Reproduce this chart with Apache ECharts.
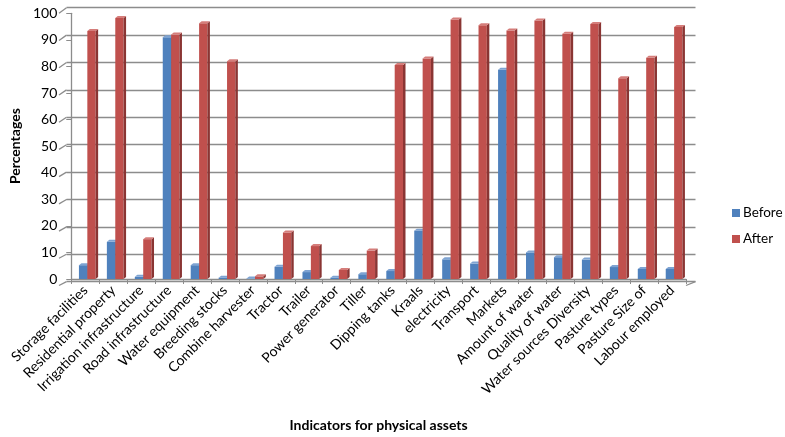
<!DOCTYPE html>
<html><head><meta charset="utf-8">
<script src="https://cdn.jsdelivr.net/npm/echarts@6/dist/echarts.min.js"></script>
<style>html,body{margin:0;padding:0;background:#fff}#c{width:785px;height:437px}</style>
</head><body><div id="c"></div>
<script>
const categories = ['Storage facilities','Residential property','Irrigation infrastructure','Road infrastructure','Water equipment','Breeding stocks','Combine harvester','Tractor','Trailer','Power generator','Tiller','Dipping tanks','Kraals','electricity','Transport','Markets','Amount of water','Quality of water','Water sources Diversity','Pasture types','Pasture Size of','Labour employed'];
const beforeValues = [5.2, 14, 0.8, 91, 5.2, 0.5, 0.2, 4.6, 2.6, 0.5, 1.8, 3, 18.2, 7.4, 5.8, 78.8, 10, 8.2, 7.3, 4.5, 3.8, 3.8];
const afterValues = [93.3, 98.2, 15, 92, 96.3, 82, 1, 17.5, 12.4, 3.4, 10.7, 80.5, 83, 97.7, 95.5, 93.5, 97.3, 92.3, 96, 75.6, 83.3, 94.8];
const yTicks = [0, 10, 20, 30, 40, 50, 60, 70, 80, 90, 100];
const seriesNames = ['Before', 'After'];
const colors = {
  Before: {front: '#4F81BD', side: '#36618f', top: '#7ea3d2'},
  After: {front: '#C0504D', side: '#8a3533', top: '#d57d7a'}
};
const FONT = 'Lato, "Open Sans", sans-serif';

function barRenderer(offA, offB, c) {
  return function (params, api) {
    const i = api.value(0), v = api.value(1);
    const base = api.coord([i, 0]);
    const tp = api.coord([i, v]);
    const x0 = base[0] + offA, x1 = base[0] + offB;
    const y0 = base[1], y1 = tp[1];
    const dx = 2.5, dy = -2;
    return {type: 'group', children: [
      {type: 'rect', shape: {x: x0, y: y1, width: x1 - x0, height: y0 - y1}, style: {fill: c.front}},
      {type: 'polygon', shape: {points: [[x1, y1], [x1 + dx, y1 + dy], [x1 + dx, y0 + dy], [x1, y0]]}, style: {fill: c.side}},
      {type: 'polygon', shape: {points: [[x0, y1], [x0 + dx, y1 + dy], [x1 + dx, y1 + dy], [x1, y1]]}, style: {fill: c.top}}
    ]};
  };
}

function wallRenderer(params, api) {
  const cs = params.coordSys;
  const v = api.value(1);
  const p = api.coord([0, v]);
  const bx = cs.x, by = p[1];
  const fx = bx - 7.5, fy = by + 3.8 + 1.8 * v / 100;
  const children = [
    {type: 'line', shape: {x1: fx, y1: fy, x2: bx, y2: by}, style: {stroke: '#8c8c8c', lineWidth: 1.3}}
  ];
  if (v === 0) {
    const rx = cs.x + cs.width;
    children.push({type: 'line', shape: {x1: rx - 9.5, y1: fy, x2: rx, y2: by}, style: {stroke: '#8c8c8c', lineWidth: 1.3}});
  }
  return {type: 'group', children: children};
}

const chart = echarts.init(document.getElementById('c'), null, {renderer: 'canvas'});
chart.setOption({
  animation: false,
  backgroundColor: '#fff',
  textStyle: {fontFamily: FONT},
  legend: {
    orient: 'vertical', left: 727, top: 201, itemWidth: 8, itemHeight: 8, itemGap: 12,
    textStyle: {fontFamily: FONT, fontSize: 13.5, color: '#000', padding: [0, 0, 0, -2]},
    data: seriesNames.map(n => ({name: n, icon: 'rect', itemStyle: {color: colors[n].front}}))
  },
  grid: [
    {left: 59, right: 99, top: 13.3, bottom: 151.5},
    {left: 66.5, right: 89.5, top: 7.7, bottom: 155.3}
  ],
  xAxis: [
    {type: 'category', gridIndex: 0, data: categories,
     axisLine: {lineStyle: {color: '#8c8c8c', width: 1.3}},
     axisTick: {show: true, interval: 0, length: 5, lineStyle: {color: '#8c8c8c'}},
     axisLabel: {interval: 0, rotate: 45, margin: 9, fontSize: 14, color: '#000', fontFamily: FONT},
     name: 'Indicators for physical assets', nameLocation: 'middle', nameGap: 139,
     nameTextStyle: {fontSize: 14, fontWeight: 'bold', color: '#000', fontFamily: FONT}},
    {type: 'category', gridIndex: 1, data: categories, show: false}
  ],
  yAxis: [
    {type: 'value', gridIndex: 0, min: 0, max: 100, interval: 10,
     axisLine: {show: true, lineStyle: {color: '#8c8c8c', width: 1.3}},
     axisTick: {show: true, length: 5, lineStyle: {color: '#8c8c8c'}},
     splitLine: {show: false},
     axisLabel: {fontSize: 14, color: '#000', margin: 14, fontFamily: FONT},
     name: 'Percentages', nameLocation: 'middle', nameRotate: 90, nameGap: 49,
     nameTextStyle: {fontSize: 14, fontWeight: 'bold', color: '#000', fontFamily: FONT}},
    {type: 'value', gridIndex: 1, min: 0, max: 100, interval: 10,
     axisLine: {show: false}, axisTick: {show: false}, axisLabel: {show: false},
     splitLine: {show: true, lineStyle: {color: '#8c8c8c', width: 1.4}}}
  ],
  series: [
    {type: 'custom', name: 'wall', xAxisIndex: 1, yAxisIndex: 1, silent: true, z: 1,
     data: yTicks.map(v => [0, v]), renderItem: wallRenderer, encode: {x: 0, y: 1}},
    {type: 'custom', name: 'Before', xAxisIndex: 0, yAxisIndex: 0, z: 3,
     itemStyle: {color: colors.Before.front},
     data: beforeValues.map((v, i) => [i, v]), encode: {x: 0, y: 1},
     renderItem: barRenderer(-6.3, 2.1, colors.Before)},
    {type: 'custom', name: 'After', xAxisIndex: 0, yAxisIndex: 0, z: 4,
     itemStyle: {color: colors.After.front},
     data: afterValues.map((v, i) => [i, v]), encode: {x: 0, y: 1},
     renderItem: barRenderer(2.1, 10.4, colors.After)}
  ]
});
</script>
</body></html>
